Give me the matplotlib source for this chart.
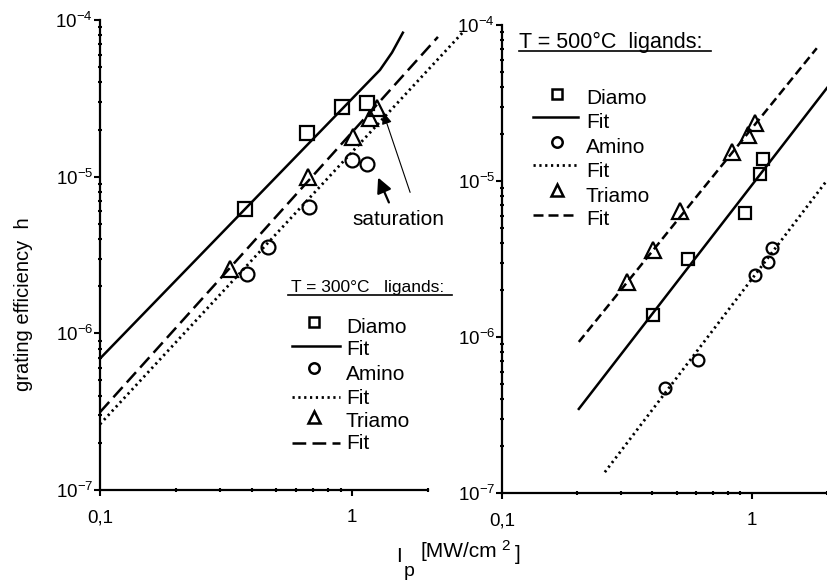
import matplotlib
matplotlib.use("Agg")
import matplotlib.pyplot as plt
from matplotlib.lines import Line2D
from matplotlib.ticker import FixedLocator, FixedFormatter, NullFormatter

plt.rcParams['font.family'] = ['Liberation Sans', 'DejaVu Sans']
plt.rcParams['mathtext.fontset'] = 'custom'
plt.rcParams['mathtext.rm'] = 'Liberation Sans'
plt.rcParams['mathtext.it'] = 'Liberation Sans:italic'
plt.rcParams['mathtext.default'] = 'regular'

# ---------------- data ----------------
# T = 300 °C (left panel)
l_diamo_x = [0.376, 0.662, 0.912, 1.15]
l_diamo_y = [6.25e-6, 1.9e-5, 2.79e-5, 2.95e-5]
l_amino_x = [0.383, 0.464, 0.672, 1.0, 1.15]
l_amino_y = [2.38e-6, 3.58e-6, 6.44e-6, 1.27e-5, 1.2e-5]
l_triamo_x = [0.328, 0.67, 1.01, 1.18, 1.26]
l_triamo_y = [2.56e-6, 1.0e-5, 1.8e-5, 2.38e-5, 2.75e-5]
l_fit_diamo_x = [0.1, 1.29, 1.44, 1.59]
l_fit_diamo_y = [6.9e-7, 4.8e-5, 6.2e-5, 8.3e-5]
l_fit_amino_x = [0.1, 2.76]
l_fit_amino_y = [2.63e-7, 8.4e-5]
l_fit_triamo_x = [0.1, 2.19]
l_fit_triamo_y = [3.14e-7, 7.8e-5]

# T = 500 °C (right panel)
r_diamo_x = [0.402, 0.555, 0.937, 1.076, 1.107]
r_diamo_y = [1.38e-6, 3.16e-6, 6.2e-6, 1.11e-5, 1.38e-5]
r_amino_x = [0.449, 0.608, 1.03, 1.16, 1.21]
r_amino_y = [4.7e-7, 7.1e-7, 2.49e-6, 3.03e-6, 3.7e-6]
r_triamo_x = [0.316, 0.402, 0.515, 0.83, 0.964, 1.03]
r_triamo_y = [2.26e-6, 3.6e-6, 6.4e-6, 1.53e-5, 1.97e-5, 2.35e-5]
r_fit_diamo_x = [0.203, 2.0]
r_fit_diamo_y = [3.46e-7, 3.95e-5]
r_fit_amino_x = [0.258, 2.0]
r_fit_amino_y = [1.36e-7, 1.01e-5]
r_fit_triamo_x = [0.203, 1.82]
r_fit_triamo_y = [9.3e-7, 7.1e-5]

x_ticks = [0.1, 1]
x_ticklabels = ['0,1', '1']
y_ticks = [1e-7, 1e-6, 1e-5, 1e-4]
y_ticklabels = ['$10^{-7}$', '$10^{-6}$', '$10^{-5}$', '$10^{-4}$']
x_minor = [0.2, 0.3, 0.4, 0.5, 0.6, 0.7, 0.8, 0.9, 2.0]
y_minor = [m * 10.0 ** e for e in (-7, -6, -5) for m in range(2, 10)]

labels = ['Diamo', 'Fit', 'Amino', 'Fit', 'Triamo', 'Fit']

# ---------------- figure ----------------
W, H = 827, 580
fig = plt.figure(figsize=(W / 100, H / 100), dpi=100)


def F(x, y):
    return (x / W, 1 - y / H)


axL = fig.add_axes([100 / W, (H - 490) / H, 328 / W, 470 / H])
axR = fig.add_axes([502 / W, (H - 493) / H, 325 / W, 468 / H])

for ax in (axL, axR):
    ax.set_xscale('log')
    ax.set_yscale('log')
    ax.set_xlim(0.1, 2.0)
    ax.set_ylim(1e-7, 1e-4)
    ax.spines['top'].set_visible(False)
    ax.spines['right'].set_visible(False)
    for s in ('left', 'bottom'):
        ax.spines[s].set_linewidth(1.6)
    ax.xaxis.set_major_locator(FixedLocator(x_ticks))
    ax.xaxis.set_major_formatter(FixedFormatter(x_ticklabels))
    ax.xaxis.set_minor_locator(FixedLocator(x_minor))
    ax.xaxis.set_minor_formatter(NullFormatter())
    ax.yaxis.set_major_locator(FixedLocator(y_ticks))
    ax.yaxis.set_major_formatter(FixedFormatter(y_ticklabels))
    ax.yaxis.set_minor_locator(FixedLocator(y_minor))
    ax.yaxis.set_minor_formatter(NullFormatter())
    ax.tick_params(which='major', direction='out', length=4, width=1.5)
    ax.tick_params(which='minor', direction='inout', length=3.5, width=1.5)
    ax.tick_params(axis='x', which='major', labelsize=13.5, pad=10)
    ax.tick_params(axis='y', which='major', labelsize=13.5, pad=1)
    ax.patch.set_alpha(0)

mk = dict(color='black', linestyle='none', markerfacecolor='none',
          markeredgewidth=1.6, clip_on=False)

# left panel
axL.plot(l_fit_diamo_x, l_fit_diamo_y, color='black', lw=1.8, clip_on=False)
axL.plot(l_fit_amino_x, l_fit_amino_y, color='black', lw=2.0,
         linestyle=(0, (0.8, 1.3)), clip_on=False)
axL.plot(l_fit_triamo_x, l_fit_triamo_y, color='black', lw=1.8,
         linestyle=(0, (5.5, 2.5)), clip_on=False)
axL.plot(l_diamo_x, l_diamo_y, marker='s', markersize=10, **mk)
axL.plot(l_amino_x, l_amino_y, marker='o', markersize=10, **mk)
axL.plot(l_triamo_x, l_triamo_y, marker='^', markersize=11, **mk)

# right panel
axR.plot(r_fit_diamo_x, r_fit_diamo_y, color='black', lw=1.8, clip_on=False)
axR.plot(r_fit_amino_x, r_fit_amino_y, color='black', lw=2.0,
         linestyle=(0, (0.8, 1.3)), clip_on=False)
axR.plot(r_fit_triamo_x, r_fit_triamo_y, color='black', lw=1.8,
         linestyle=(0, (3.5, 1.8)), clip_on=False)
axR.plot(r_diamo_x, r_diamo_y, marker='s', markersize=9, **mk)
axR.plot(r_amino_x, r_amino_y, marker='o', markersize=8.5, **mk)
axR.plot(r_triamo_x, r_triamo_y, marker='^', markersize=11, **mk)


# ---------------- legends (manual) ----------------
def legend_block(title, title_xy, title_size, underline, mx, lx0, lx1, tx,
                 rows_y, base_y, dash):
    fig.text(*F(*title_xy), title, fontsize=title_size, ha='left', va='baseline')
    fig.add_artist(Line2D([underline[0] / W, underline[1] / W],
                          [1 - underline[2] / H] * 2, color='black', lw=1.2,
                          transform=fig.transFigure))
    kinds = [('s', None), ('-', None), ('o', None), (':', None), ('^', None), ('--', None)]
    for (k, _), ry, by, lab in zip(kinds, rows_y, base_y, labels):
        if k in ('s', 'o', '^'):
            ms = {'s': 7.5, 'o': 7.5, '^': 9}[k]
            fig.add_artist(Line2D([mx / W], [1 - ry / H], marker=k, markersize=ms,
                                  color='black', markerfacecolor='none',
                                  markeredgewidth=1.8, linestyle='none',
                                  transform=fig.transFigure))
        else:
            ls = {'-': '-', ':': (0, (0.8, 1.3)), '--': dash}[k]
            lw = 2.0 if k == ':' else 1.8
            fig.add_artist(Line2D([lx0 / W, lx1 / W], [1 - ry / H] * 2,
                                  color='black', lw=lw, linestyle=ls,
                                  transform=fig.transFigure))
        fig.text(*F(tx, by), lab, fontsize=15, ha='left', va='baseline')


legend_block('T = 300°C   ligands:', (291, 292), 12.5, (288, 452, 295),
             314, 292, 340, 346,
             [322, 346, 368, 397, 417, 443],
             [333, 355, 380, 404, 427, 449], (0, (5.5, 2.5)))
legend_block('T = 500°C  ligands:', (519, 48), 15.5, (519, 711, 51),
             557, 533, 578, 586,
             [94, 117, 142, 165, 190, 215],
             [104, 128, 153, 177, 202, 225], (0, (4, 2)))

# ---------------- saturation annotation ----------------
fig.text(*F(352, 225), 'saturation', fontsize=15, ha='left', va='baseline')
fig.add_artist(matplotlib.patches.FancyArrowPatch(
    F(390, 205), F(377, 175), transform=fig.transFigure,
    arrowstyle='-|>,head_length=6,head_width=3', lw=1.6, color='black',
    mutation_scale=1.5))
fig.add_artist(matplotlib.patches.FancyArrowPatch(
    F(411, 195), F(382, 109), transform=fig.transFigure,
    arrowstyle='-|>,head_length=5,head_width=2', lw=0.8, color='black',
    mutation_scale=1.5))

# ---------------- axis labels ----------------
fig.text(*F(24, 304), 'grating efficiency  h', fontsize=14.5, rotation=90,
         ha='center', va='center')
fig.text(*F(396, 562), 'I', fontsize=15, ha='left', va='baseline')
fig.text(*F(404, 576), 'p', fontsize=14, ha='left', va='baseline')
fig.text(*F(421, 557), '[MW/cm', fontsize=15, ha='left', va='baseline')
fig.text(*F(501, 550), '2', fontsize=11, ha='left', va='baseline')
fig.text(*F(515, 560), ']', fontsize=15, ha='left', va='baseline')

fig.savefig('out.png', dpi=100)
